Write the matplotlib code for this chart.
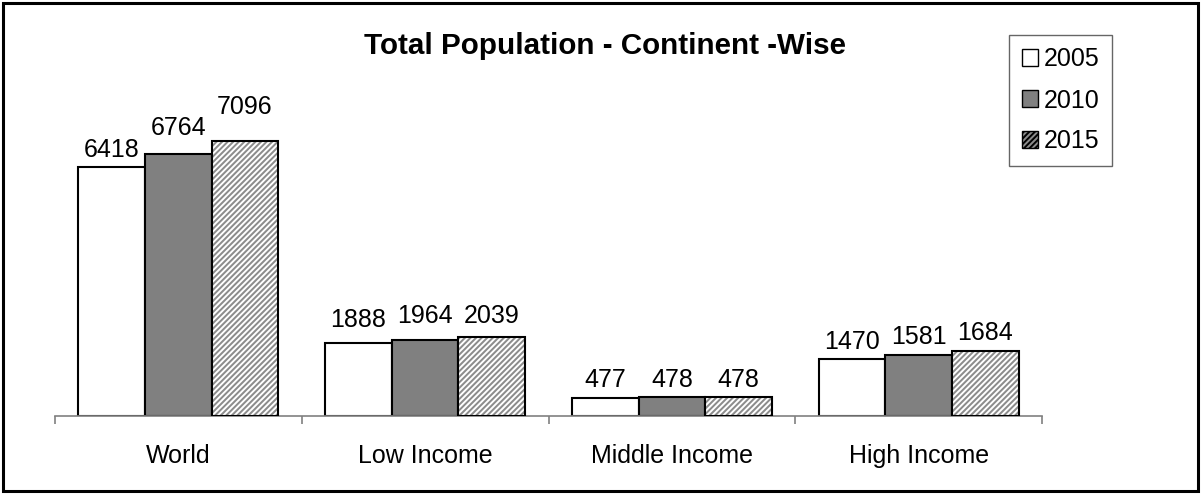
import matplotlib
matplotlib.use("Agg")
import matplotlib.pyplot as plt
import numpy as np
from matplotlib.patches import Rectangle, Patch

plt.rcParams['font.family'] = ['Liberation Sans', 'DejaVu Sans']
plt.rcParams['hatch.linewidth'] = 1.4

categories = ["World", "Low Income", "Middle Income", "High Income"]
years = ["2005", "2010", "2015"]
values_2005 = [6418, 1888, 477, 1470]
values_2010 = [6764, 1964, 478, 1581]
values_2015 = [7096, 2039, 478, 1684]
title = "Total Population - Continent -Wise"

# extra vertical lift (points) of value labels, mimicking the original label placement
label_lift = {(0, 1): 6.0, (0, 2): 12.0, (1, 0): 4.0, (1, 1): 5.0, (1, 2): 2.5}

W, H = 1201, 494
fig = plt.figure(figsize=(W / 100, H / 100), dpi=100)
ax = fig.add_axes([55 / W, 1 - 416 / H, (1042 - 55) / W, (416 - 106) / H])

x = np.arange(len(categories))
bw = 0.27
series = [values_2005, values_2010, values_2015]
offsets = [-bw, 0, bw]

ax.bar(x + offsets[0], values_2005, bw, color='white', edgecolor='black', linewidth=1.5, zorder=2)
ax.bar(x + offsets[1], values_2010, bw, color='#808080', edgecolor='black', linewidth=1.5, zorder=2)
ax.bar(x + offsets[2], values_2015, bw, color='#8c8c8c', edgecolor='white', hatch='//////', linewidth=0, zorder=2)
ax.bar(x + offsets[2], values_2015, bw, color='none', edgecolor='black', linewidth=1.5, zorder=3)

for si, (s, off) in enumerate(zip(series, offsets)):
    for ci, (xi, v) in enumerate(zip(x, s)):
        lift = label_lift.get((ci, si), 0.0)
        ax.annotate(str(v), (xi + off, v), xytext=(0, 7.5 + lift), textcoords='offset points',
                    ha='center', va='baseline', fontsize=18)

ax.set_xlim(-0.5, len(categories) - 0.5)
ax.set_ylim(0, 8000)
for sp in ['top', 'right', 'left']:
    ax.spines[sp].set_visible(False)
ax.spines['bottom'].set_color('#808080')
ax.spines['bottom'].set_linewidth(1.2)
ax.set_yticks([])
ax.set_xticks(np.arange(-0.5, len(categories)), minor=False)
ax.set_xticklabels([])
ax.tick_params(axis='x', which='major', length=6, color='#808080', width=1.2, direction='out')
ax.set_xticks(x, minor=True)
ax.set_xticklabels(categories, minor=True, fontsize=18)
ax.tick_params(axis='x', which='minor', length=0, pad=20)

fig.text(605 / W, 1 - 54 / H, title, ha='center', va='baseline', fontsize=21.3, fontweight='bold')

handles = [Patch(facecolor='white', edgecolor='black'),
           Patch(facecolor='#808080', edgecolor='black'),
           Patch(facecolor='#8c8c8c', edgecolor='black', hatch='//////')]
leg = fig.legend(handles, years, loc='upper left', bbox_to_anchor=(1009 / W, 1 - 35 / H),
                 fontsize=18, frameon=True, fancybox=False, handlelength=0.65, handleheight=0.65,
                 handletextpad=0.25, labelspacing=0.68, borderpad=0.5, borderaxespad=0)
leg.get_frame().set_edgecolor('#404040')
leg.get_frame().set_linewidth(1.0)

fig.patches.append(Rectangle((3 / W, 3 / H), (W - 6) / W, (H - 6) / H, transform=fig.transFigure,
                             fill=False, edgecolor='black', linewidth=2.2))

fig.savefig('out.png', dpi=100)
